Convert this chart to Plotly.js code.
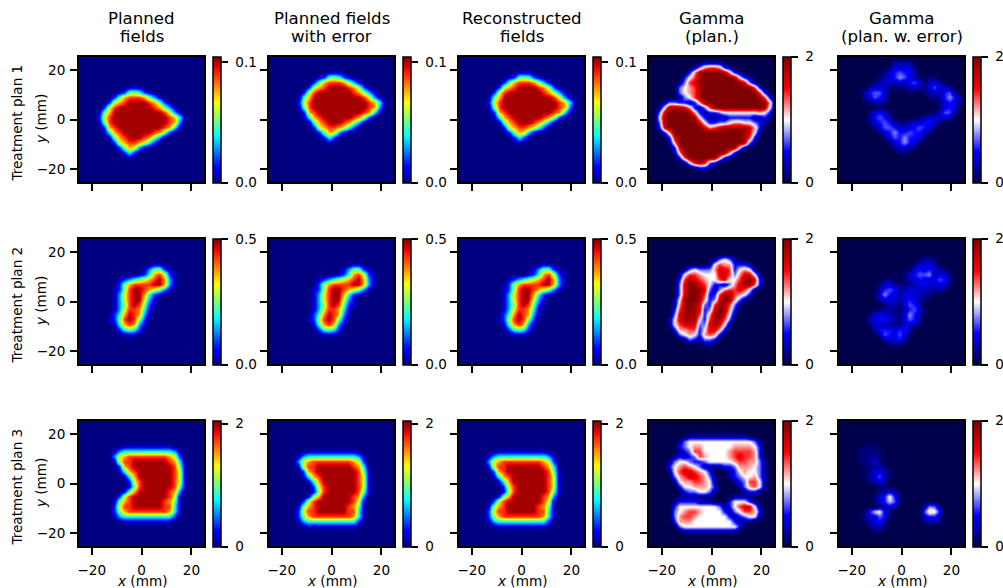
<!DOCTYPE html>
<html><head><meta charset="utf-8">
<script src="https://cdn.plot.ly/plotly-3.0.1.min.js"></script>
<style>html,body{margin:0;padding:0;background:#fff}#c{width:1003px;height:588px}</style>
</head><body><div id="c"></div>
<script>
// Fields on a 2 mm grid: [y, first x, one level code per 2 mm step]. Missing cells are zero.
const planned1 = [[13,-5,'111'],[11,-9,'1255421'],[9,-11,'2578887531'],[7,-13,'267899998752'],[5,-15,'268999999987531'],[3,-17,'15799999999998631'],[1,-17,'268999999999998741'],[-1,-17,'15899999999999873'],[-3,-15,'2789999999998741'],[-5,-15,'14789999998752'],[-7,-13,'15789998753'],[-9,-11,'267887642'],[-11,-9,'257631'],[-13,-7,'242'],[-15,-5,'1']];
const planned2 = [[15,5,'11'],[13,1,'135521'],[11,-1,'12478621'],[9,-9,'123456789731'],[7,-9,'257888899731'],[5,-11,'125899876531'],[3,-11,'1368997421'],[1,-11,'136899631'],[-1,-11,'135898521'],[-3,-11,'13688741'],[-5,-11,'24798731'],[-7,-13,'12589852'],[-9,-11,'1478731'],[-11,-9,'24542'],[-13,-7,'111']];
const planned3 = [[15,-7,'1111111111'],[13,-11,'13444444444431'],[11,-11,'36788888888762'],[9,-11,'16889999999874'],[7,-9,'27899999999851'],[5,-9,'14789999999861'],[3,-7,'1479999999861'],[1,-5,'268999999861'],[-1,-5,'158999999851'],[-3,-7,'157999999873'],[-5,-9,'2689999999861'],[-7,-11,'15789999998751'],[-9,-11,'26889999998841'],[-11,-11,'25788888888741'],[-13,-11,'1344444444442'],[-15,-7,'1111111111']];
const gammaPlan1 = [[23,-3,'1111'],[21,-7,'13566521'],[19,-9,'25899998521'],[17,-11,'24689999998421'],[15,-13,'1367899999999731'],[13,-13,'34568999999999962'],[11,-13,'345689999999999962'],[9,-13,'1346899999999999962'],[7,-19,'13322125899999999999951'],[5,-21,'148887521368999999999841'],[3,-21,'37999985212234444444542'],[1,-21,'48999998421111222221121'],[-1,-21,'3899999974223345544321'],[-3,-21,'279999999756788888752'],[-5,-19,'25999999999999998741'],[-7,-17,'279999999999999862'],[-9,-17,'159999999999999831'],[-11,-15,'279999999999841'],[-13,-15,'1599999999852'],[-15,-13,'26999999521'],[-17,-11,'1478732'],[-19,-7,'1221']];
const gammaError1 = [[23,-3,'2222'],[21,-5,'133331'],[19,-7,'1345442'],[17,-9,'123465321011'],[15,-11,'12332324531332'],[13,-13,'23321111232135332'],[11,-15,'2455310001001232452'],[9,-15,'23543000000001124642'],[7,-13,'1221000000000013432'],[5,-9,'1000000000001343'],[3,-13,'134310000000012552'],[1,-13,'24542000001233332'],[-1,-13,'134542112334431'],[-3,-11,'1355433345431'],[-5,-9,'13464454421'],[-7,-7,'135464431'],[-9,-5,'1346431'],[-11,-3,'13321'],[-13,-1,'11']];
const gammaPlan2 = [[17,1,'13431'],[15,-1,'146552221'],[13,-11,'134333577624541'],[11,-13,'14665444776357741'],[9,-13,'26876544674468972'],[7,-13,'37987642213578862'],[5,-13,'3799873135667641'],[3,-13,'379986226886542'],[1,-15,'148998523798531'],[-1,-15,'15898732688631'],[-3,-15,'2689872379852'],[-5,-15,'3788862589741'],[-7,-17,'1478884268863'],[-9,-17,'1467773378741'],[-11,-15,'25566247752'],[-13,-13,'345425652'],[-15,-11,'1321332'],[-17,-3,'11']];
const gammaError2 = [[17,7,'1221'],[15,5,'13332'],[13,3,'13434321'],[11,-3,'101345562331'],[9,-7,'11001234333542'],[7,-9,'133211223433331'],[5,-9,'24542233322221'],[3,-11,'136432333221'],[1,-9,'2333234321'],[-1,-7,'12213542'],[-3,-9,'1221124531'],[-5,-13,'13332213642'],[-7,-13,'23443213542'],[-9,-13,'13222113321'],[-11,-11,'24443442'],[-13,-9,'2543531'],[-15,-7,'23342'],[-17,-5,'111']];
const gammaPlan3 = [[19,-9,'111111111111'],[17,-13,'13444444444444431'],[15,-13,'23455444444555542'],[13,-13,'12366444445666652'],[11,-15,'121236544445676652'],[9,-17,'13443223444445665531'],[7,-17,'24565431111223555431'],[5,-17,'14677654200012454431'],[3,-15,'3567765310012344531'],[1,-15,'1455665410001236641'],[-1,-13,'244555420000135641'],[-3,-11,'2334431000001221'],[-5,-13,'111111100001111'],[-7,-15,'12222111000244421'],[-9,-15,'244444444312467741'],[-11,-15,'345665444421346652'],[-13,-15,'356654444442123441'],[-15,-15,'2555444444442111'],[-17,-13,'3444444444442'],[-19,-11,'11111111111']];
const gammaError3 = [[15,-15,'111'],[13,-17,'11111'],[11,-17,'11121'],[9,-17,'11231'],[7,-15,'11221'],[5,-13,'13321'],[3,-15,'123521'],[1,-13,'1232'],[-1,-9,'11'],[-3,-9,'1232'],[-5,-11,'134841'],[-7,-11,'134751'],[-9,-9,'1232000002651'],[-11,-15,'1478310000005984'],[-13,-15,'1335410000003442'],[-15,-15,'1234200000001221'],[-17,-13,'1221'],[-19,-11,'11']];

const planLabels = ['Treatment plan 1','Treatment plan 2','Treatment plan 3'];
const titleLines = [['Planned','fields'],['Planned fields','with error'],['Reconstructed','fields'],['Gamma','(plan.)'],['Gamma','(plan. w. error)']];
const fieldMax = [0.1047,0.503,2.05];
const fieldTicks = [[0,0.1],[0,0.5],[0,2]];
const fieldTickText = [['\u00a00.0','\u00a00.1'],['\u00a00.0','\u00a00.5'],['\u00a00','\u00a02']];
const gammaTickText = ['\u00a00','\u00a02'];
const fieldLevels = [0,0.06,0.16,0.28,0.40,0.5,0.62,0.74,0.86,0.97];
const gammaLevels = [0,0.22,0.5,0.72,1,1.2,1.4,1.64,1.86,2];
const errorLevels = [0,0.13,0.26,0.39,0.52,0.65,0.78,0.91,1.04,1.17];
const errorShift = [[4,6],[3.6,0],[-2.2,-2]];

const jet = [[0,'#000080'],[0.11,'#0000ff'],[0.125,'#0000ff'],[0.34,'#00dbff'],[0.375,'#02ffff'],[0.5,'#7dff7a'],[0.64,'#f9ff00'],[0.66,'#ffee00'],[0.89,'#ff1300'],[0.91,'#f00000'],[1,'#800000']];
const seismic = [[0,'#00004c'],[0.25,'#0000ff'],[0.5,'#ffffff'],[0.75,'#ff0000'],[1,'#7f0000']];

function grid(rows, levels, scale){
  const z = [];
  for(let r=0;r<26;r++) z.push(new Array(26).fill(0));
  rows.forEach(([y,x,codes])=>{
    const r = (y+25)/2, first = (x+25)/2;
    [...codes].forEach((ch,i)=>{ if(first+i<26) z[r][first+i] = levels[+ch]*scale; });
  });
  return z;
}

const W=1003,H=588;
const colX=[78.8,268.8,458.8,648.8,838.8], panelW=125.6;
const rowY=[56.8,238.8,420.8], panelH=125.6;
const axisHalf=25.2;
const fieldRows=[planned1,planned2,planned3];
const gammaRows=[[gammaPlan1,gammaError1],[gammaPlan2,gammaError2],[gammaPlan3,gammaError3]];
const font='"DejaVu Sans", sans-serif';
const tickFont={family:font,size:13.6,color:'#000'};
const traces=[];
const layout={width:W,height:H,paper_bgcolor:'#fff',plot_bgcolor:'#000080',showlegend:false,
  margin:{l:0,r:0,t:0,b:0,autoexpand:false},font:{family:font,size:13.6,color:'#000'},annotations:[]};
function note(text,px,py,size,angle){
  layout.annotations.push({text,xref:'paper',yref:'paper',x:px/W,y:1-py/H,xanchor:'center',yanchor:'middle',
    textangle:angle||0,showarrow:false,borderpad:0,font:{family:font,size,color:'#000'}});
}

for(let r=0;r<3;r++){
  for(let c=0;c<5;c++){
    const n=r*5+c+1, sx=n===1?'':n, ax='x'+sx, ay='y'+sx;
    const isField=c<3;
    let z,x0=-25,y0=-25;
    if(isField){
      z=grid(fieldRows[r],fieldLevels,fieldMax[r]);
      if(c>0){x0+=errorShift[r][0];y0+=errorShift[r][1];}
    } else {
      z=grid(gammaRows[r][c-3],c===3?gammaLevels:errorLevels,1);
    }
    const tv=isField?fieldTicks[r]:[0,2], tt=isField?fieldTickText[r]:gammaTickText;
    traces.push({type:'heatmap',z,x0,dx:2,y0,dy:2,xaxis:ax,yaxis:ay,zsmooth:'best',hoverinfo:'skip',
      colorscale:isField?jet:seismic,zmin:0,zmax:isField?fieldMax[r]:2,
      colorbar:{x:(colX[c]+134.2)/W,xanchor:'left',xpad:0,ypad:0,y:1-(rowY[r]+panelH/2)/H,yanchor:'middle',
        len:panelH/H,lenmode:'fraction',thickness:8,thicknessmode:'pixels',
        outlinecolor:'#000',outlinewidth:1.5,tickmode:'array',tickvals:tv,ticktext:tt,
        ticks:'outside',ticklen:7,tickwidth:1.5,tickcolor:'#000',tickfont:tickFont}});
    layout['xaxis'+sx]={domain:[colX[c]/W,(colX[c]+panelW)/W],anchor:ay,range:[-axisHalf,axisHalf],
      tickmode:'array',tickvals:[-20,0,20],ticktext:['\u221220','0','20'],showticklabels:r===2,ticklabelstandoff:4,
      ticks:'outside',ticklen:7,tickwidth:1.5,tickcolor:'#000',showline:true,mirror:true,linecolor:'#000',linewidth:1.5,
      showgrid:false,zeroline:false,tickfont:tickFont};
    layout['yaxis'+sx]={domain:[1-(rowY[r]+panelH)/H,1-rowY[r]/H],anchor:ax,range:[-axisHalf,axisHalf],
      tickmode:'array',tickvals:[-20,0,20],ticktext:['\u221220','0','20'],showticklabels:c===0,ticklabelstandoff:2,
      ticks:'outside',ticklen:7,tickwidth:1.5,tickcolor:'#000',showline:true,mirror:true,linecolor:'#000',linewidth:1.5,
      showgrid:false,zeroline:false,tickfont:tickFont};
    if(r===2) note('<i>x</i> (mm)',colX[c]+panelW/2,581,13.6);
  }
  note(planLabels[r],17.5,rowY[r]+panelH/2+3.5,13.6,-90);
  note('<i>y</i> (mm)',41,rowY[r]+panelH/2-0.5,13.6,-90);
}
titleLines.forEach((lines,c)=>{
  lines.forEach((t,i)=>note(t,colX[c]+panelW/2,18.5+18*i,16.6));
});
Plotly.newPlot('c',traces,layout,{displayModeBar:false,responsive:false});
</script></body></html>
